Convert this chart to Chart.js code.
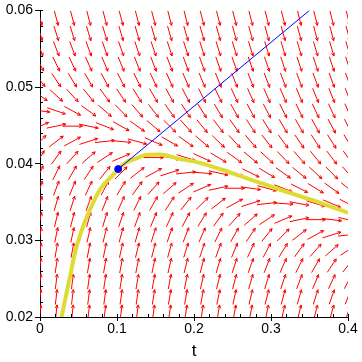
<!DOCTYPE html>
<html><head><meta charset="utf-8">
<script src="https://cdn.jsdelivr.net/npm/chart.js@4/dist/chart.umd.min.js"></script>
<style>html,body{margin:0;padding:0;background:#fff;}canvas{display:block}</style>
</head><body>
<canvas id="c" width="362" height="362"></canvas>
<script>
const xTicks = [0, 0.1, 0.2, 0.3, 0.4];
const xTickLabels = ['0', '0.1', '0.2', '0.3', '0.4'];
const yTicks = [0.02, 0.03, 0.04, 0.05, 0.06];
const yTickLabels = ['0.02', '0.03', '0.04', '0.05', '0.06'];
const xMinorTicks = [0.02,0.04,0.06,0.08,0.12,0.14,0.16,0.18,0.22,0.24,0.26,0.28,0.32,0.34,0.36,0.38];
const yMinorTicks = [0.022,0.024,0.026,0.028,0.032,0.034,0.036,0.038,0.042,0.044,0.046,0.048,0.052,0.054,0.056,0.058];
const xTitle = 't';

// direction field grid (t positions, y positions) and slopes dy/dt, rows bottom -> top
const fieldT = [0,0.0211,0.0421,0.0632,0.0842,0.1053,0.1263,0.1474,0.1684,0.1895,0.2105,0.2316,0.2526,0.2737,0.2947,0.3158,0.3368,0.3579,0.3789,0.4];
const fieldY = [0.0206,0.0226,0.0246,0.0267,0.0287,0.0307,0.0327,0.0348,0.0368,0.0388,0.0408,0.0429,0.0449,0.0469,0.0489,0.0509,0.0530,0.0550,0.0570,0.0590];
const fieldSlope = [
 [1.016,.974,.932,.892,.851,.812,.773,.735,.698,.661,.625,.589,.554,.520,.487,.454,.422,.391,.360,.330],
 [.912,.871,.832,.792,.754,.716,.679,.643,.607,.572,.537,.503,.470,.438,.406,.375,.345,.315,.286,.258],
 [.812,.773,.735,.698,.661,.625,.589,.554,.520,.487,.454,.422,.391,.360,.330,.300,.272,.244,.216,.190],
 [.716,.679,.643,.607,.572,.537,.503,.470,.438,.406,.375,.345,.315,.286,.258,.230,.203,.176,.151,.126],
 [.625,.589,.554,.520,.487,.454,.422,.391,.360,.330,.300,.272,.244,.216,.190,.163,.138,.113,.089,.066],
 [.537,.503,.470,.438,.406,.375,.345,.315,.286,.258,.230,.203,.176,.151,.126,.101,.078,.055,.032,.011],
 [.454,.422,.391,.360,.330,.300,.272,.244,.216,.190,.163,.138,.113,.089,.066,.043,.021,0,-.012,-.023],
 [.375,.345,.315,.286,.258,.230,.203,.176,.151,.126,.101,.078,.055,.032,.011,-.007,-.019,-.031,-.042,-.052],
 [.300,.272,.244,.216,.190,.163,.138,.113,.089,.066,.043,.021,0,-.014,-.027,-.039,-.051,-.062,-.072,-.081],
 [.230,.203,.176,.151,.126,.101,.078,.055,.032,.011,-.008,-.022,-.036,-.049,-.061,-.072,-.082,-.092,-.102,-.111],
 [.163,.138,.113,.089,.066,.043,.021,0,-.017,-.032,-.046,-.060,-.072,-.083,-.094,-.104,-.114,-.123,-.132,-.140],
 [.101,.078,.055,.032,.011,-.009,-.027,-.043,-.058,-.072,-.085,-.097,-.108,-.118,-.128,-.137,-.146,-.154,-.161,-.169],
 [.043,.021,0,-.021,-.039,-.056,-.072,-.086,-.100,-.112,-.123,-.134,-.144,-.153,-.162,-.170,-.177,-.185,-.191,-.198],
 [-.012,-.034,-.054,-.072,-.088,-.103,-.117,-.130,-.141,-.152,-.162,-.171,-.180,-.188,-.195,-.202,-.209,-.215,-.221,-.227],
 [-.072,-.091,-.108,-.124,-.138,-.150,-.162,-.173,-.183,-.192,-.200,-.208,-.216,-.222,-.229,-.235,-.241,-.246,-.251,-.256],
 [-.132,-.148,-.162,-.175,-.187,-.197,-.207,-.216,-.224,-.232,-.239,-.246,-.252,-.257,-.262,-.268,-.272,-.277,-.281,-.285],
 [-.193,-.205,-.216,-.227,-.236,-.244,-.252,-.259,-.266,-.272,-.277,-.283,-.288,-.292,-.296,-.300,-.304,-.308,-.311,-.314],
 [-.253,-.262,-.271,-.278,-.285,-.291,-.297,-.302,-.307,-.312,-.316,-.320,-.324,-.327,-.330,-.333,-.335,-.338,-.341,-.343],
 [-.313,-.319,-.325,-.330,-.334,-.338,-.342,-.346,-.349,-.352,-.354,-.357,-.360,-.361,-.363,-.366,-.367,-.369,-.371,-.372],
 [-.373,-.376,-.379,-.381,-.383,-.385,-.387,-.389,-.390,-.392,-.393,-.394,-.395,-.396,-.397,-.398,-.399,-.400,-.401,-.402]
];

// solution curve (yellow)
const curveT = [0.0262,0.0279,0.037,0.0465,0.0535,0.0604,0.0777,0.093,0.108,0.1255,0.1385,0.156,0.178,0.2036,0.24,0.26,0.286,0.312,0.338,0.364,0.4];
const curveY = [0.0192,0.0200,0.0243,0.0288,0.0311,0.03295,0.0366,0.03835,0.0399,0.0407,0.04117,0.0412,0.0407,0.0402,0.0391,0.0384,0.0375,0.0366,0.03575,0.0349,0.0336];

// tangent line (blue) and initial point
const tangentT = [0.1016, 0.35];
const tangentY = [0.0393, 0.06];
const pointT = [0.1016];
const pointY = [0.0393];

const FONT = 'Liberation Sans, Arial, Helvetica, sans-serif';

const fieldPlugin = {
  id: 'field',
  beforeDatasetsDraw(chart) {
    const {ctx, chartArea: a, scales: {x, y}} = chart;
    ctx.save();
    ctx.beginPath();
    ctx.rect(a.left, a.top, a.right - a.left, a.bottom - a.top);
    ctx.clip();
    ctx.strokeStyle = '#ff0000';
    ctx.lineWidth = 1;
    const LX = 20, LY = 15, H = 3.5;
    for (let j = 0; j < fieldY.length; j++) {
      for (let i = 0; i < fieldT.length; i++) {
        const t = fieldT[i], v = fieldY[j], m = fieldSlope[j][i];
        const px = x.getPixelForValue(t), py = y.getPixelForValue(v);
        const dt = 0.01;
        const qx = x.getPixelForValue(t + dt) - px;
        const qy = y.getPixelForValue(v + m * dt) - py;
        const s = 1 / Math.sqrt((qx / LX) ** 2 + (qy / LY) ** 2);
        const hx = qx * s / 2, hy = qy * s / 2;
        const x0 = px - hx, y0 = py - hy, x1 = px + hx, y1 = py + hy;
        const ang = Math.atan2(y1 - y0, x1 - x0);
        ctx.beginPath();
        ctx.moveTo(x0, y0);
        ctx.lineTo(x1, y1);
        ctx.moveTo(x1 + H * Math.cos(ang + Math.PI - 0.45), y1 + H * Math.sin(ang + Math.PI - 0.45));
        ctx.lineTo(x1, y1);
        ctx.lineTo(x1 + H * Math.cos(ang + Math.PI + 0.45), y1 + H * Math.sin(ang + Math.PI + 0.45));
        ctx.stroke();
      }
    }
    ctx.restore();
  }
};

const minorTickPlugin = {
  id: 'minorTicks',
  afterDraw(chart) {
    const {ctx, chartArea: a, scales: {x, y}} = chart;
    ctx.save();
    ctx.strokeStyle = '#000';
    ctx.lineWidth = 1;
    ctx.beginPath();
    xMinorTicks.concat(xTicks).forEach(v => {
      const px = Math.round(x.getPixelForValue(v)) + 0.5;
      ctx.moveTo(px, a.bottom);
      ctx.lineTo(px, a.bottom - 3);
    });
    yMinorTicks.concat(yTicks).forEach(v => {
      const py = Math.round(y.getPixelForValue(v)) + 0.5;
      ctx.moveTo(a.left, py);
      ctx.lineTo(a.left + 3, py);
    });
    ctx.stroke();
    ctx.restore();
  }
};

new Chart(document.getElementById('c'), {
  type: 'scatter',
  data: {
    datasets: [
      {
        type: 'line',
        data: curveT.map((t, k) => ({x: t, y: curveY[k]})),
        borderColor: '#dcdc32',
        borderWidth: 4,
        pointRadius: 0,
        tension: 0.4,
        cubicInterpolationMode: 'monotone',
        order: 3
      },
      {
        type: 'line',
        data: tangentT.map((t, k) => ({x: t, y: tangentY[k]})),
        borderColor: '#0000ff',
        borderWidth: 1,
        pointRadius: 0,
        order: 2
      },
      {
        type: 'scatter',
        data: pointT.map((t, k) => ({x: t, y: pointY[k]})),
        backgroundColor: '#0000ff',
        borderColor: '#0000ff',
        pointRadius: 3.5,
        order: 1
      }
    ]
  },
  options: {
    responsive: false,
    animation: false,
    devicePixelRatio: 1,
    layout: {padding: {top: 10, right: 14, left: 0, bottom: 0}},
    plugins: {legend: {display: false}, tooltip: {enabled: false}},
    scales: {
      x: {
        type: 'linear', min: 0, max: 0.4,
        afterBuildTicks: s => { s.ticks = xTicks.map(v => ({value: v})); },
        ticks: {callback: (v, i) => xTickLabels[i], font: {family: FONT, size: 14}, color: '#000', padding: 0, maxRotation: 0, autoSkip: false},
        grid: {display: true, drawOnChartArea: false, drawTicks: true, tickLength: 4, color: '#000'},
        border: {display: true, color: '#000', width: 1},
        title: {display: true, text: xTitle, font: {family: FONT, size: 17}, color: '#000', padding: {top: 0, bottom: 0}},
        afterFit: s => { s.height = 45; }
      },
      y: {
        type: 'linear', min: 0.02, max: 0.06,
        afterBuildTicks: s => { s.ticks = yTicks.map(v => ({value: v})); },
        ticks: {callback: (v, i) => yTickLabels[i], font: {family: FONT, size: 14}, color: '#000', padding: 2, autoSkip: false},
        grid: {display: true, drawOnChartArea: false, drawTicks: true, tickLength: 5, color: '#000'},
        border: {display: true, color: '#000', width: 1},
        afterFit: s => { s.width = 40; }
      }
    }
  },
  plugins: [fieldPlugin, minorTickPlugin]
});
</script>
</body></html>
